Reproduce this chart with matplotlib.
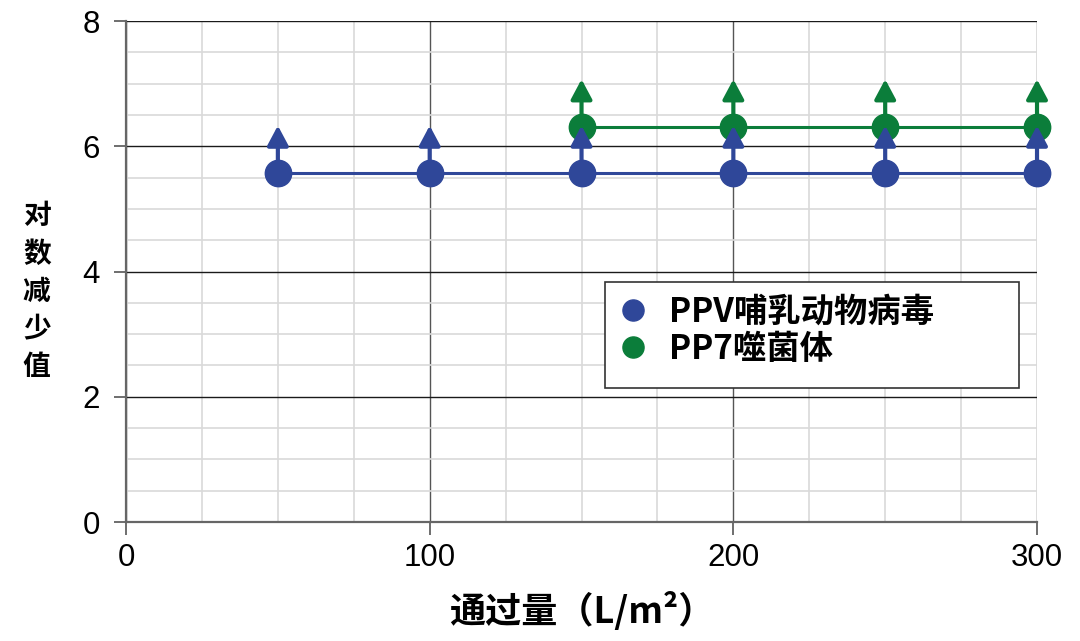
import matplotlib
matplotlib.use("Agg")
import matplotlib.pyplot as plt
import matplotlib.patches as patches
from matplotlib.ticker import MultipleLocator

# === dati ===
throughput_ppv = [50, 100, 150, 200, 250, 300]
lrv_ppv = [5.58, 5.58, 5.58, 5.58, 5.58, 5.58]
arrow_top_ppv = [6.33, 6.33, 6.33, 6.33, 6.33, 6.33]

throughput_pp7 = [150, 200, 250, 300]
lrv_pp7 = [6.3, 6.3, 6.3, 6.3]
arrow_top_pp7 = [7.07, 7.07, 7.07, 7.07]

x_ticks = [0, 100, 200, 300]
y_ticks = [0, 2, 4, 6, 8]

label_ppv = "PPV哺乳动物病毒"
label_pp7 = "PP7噬菌体"
x_label = "通过量（L/m²）"
y_label = "对数减少值"

blue = "#2f4799"
green = "#0b7d3a"

cjk = ["Noto Sans CJK SC", "DejaVu Sans"]

fig = plt.figure(figsize=(10.8, 6.41), dpi=100)
ax = fig.add_axes([0.1167, 0.1856, 0.8435, 0.7816])

ax.set_xlim(0, 300)
ax.set_ylim(0, 8)

# griglia
ax.xaxis.set_minor_locator(MultipleLocator(25))
ax.yaxis.set_minor_locator(MultipleLocator(0.5))
ax.set_xticks(x_ticks)
ax.set_yticks(y_ticks)
ax.grid(which="minor", color="#d9d9d9", lw=1.2, zorder=0)
ax.grid(which="major", axis="x", color="#555555", lw=1.0, zorder=0.5)
ax.grid(which="major", axis="y", color="#1a1a1a", lw=1.0, zorder=0.5)

for side in ["top", "right"]:
    ax.spines[side].set_visible(False)
for side in ["left", "bottom"]:
    ax.spines[side].set_color("#666666")
    ax.spines[side].set_linewidth(1.6)

ax.tick_params(which="major", length=9, width=1.2, color="#555555",
               labelsize=22.5, pad=6)
ax.tick_params(axis="y", pad=10)
ax.tick_params(which="minor", length=0)
for lab in ax.get_xticklabels() + ax.get_yticklabels():
    lab.set_family("Liberation Sans")

# linee e punti
ax.plot(throughput_ppv, lrv_ppv, color=blue, lw=2.2, zorder=3, clip_on=False)
ax.plot(throughput_pp7, lrv_pp7, color=green, lw=2.2, zorder=3, clip_on=False)
ax.plot(throughput_ppv, lrv_ppv, "o", color=blue, ms=19, zorder=4,
        label=label_ppv, ls="none", clip_on=False)
ax.plot(throughput_pp7, lrv_pp7, "o", color=green, ms=19, zorder=4,
        label=label_pp7, ls="none", clip_on=False)

# frecce "maggiore di"
arrow_style = "-|>,head_length=0.6,head_width=0.32"
for x, y0, y1 in zip(throughput_pp7, lrv_pp7, arrow_top_pp7):
    ax.annotate("", xy=(x, y1), xytext=(x, y0), annotation_clip=False,
                arrowprops=dict(arrowstyle=arrow_style, lw=3, color=green,
                                shrinkA=0, shrinkB=0, mutation_scale=20,
                                clip_on=False), zorder=5)
for x, y0, y1 in zip(throughput_ppv, lrv_ppv, arrow_top_ppv):
    ax.annotate("", xy=(x, y1), xytext=(x, y0), annotation_clip=False,
                arrowprops=dict(arrowstyle=arrow_style, lw=3, color=blue,
                                shrinkA=0, shrinkB=0, mutation_scale=20,
                                clip_on=False), zorder=6)

ax.set_xlabel(x_label, family=cjk, fontsize=26, fontweight="bold", labelpad=14)
fig.text(0.034, 0.545, "\n".join(y_label), family=cjk, fontsize=20,
         fontweight="bold", ha="center", va="center", linespacing=1.45)

# riquadro della legenda
box = patches.Rectangle((0.526, 0.2675), 0.454, 0.2115, transform=ax.transAxes,
                        facecolor="white", edgecolor="#333333", lw=1.2, zorder=9)
ax.add_patch(box)
leg = ax.legend(loc="upper left", bbox_to_anchor=(0.527, 0.482),
                borderaxespad=0, frameon=False, handlelength=0.7,
                handletextpad=0.75, borderpad=0.45, labelspacing=0.12,
                markerscale=0.8,
                prop={"family": cjk, "size": 24, "weight": "bold"})
leg.set_zorder(10)

fig.savefig("out.png", dpi=100)
